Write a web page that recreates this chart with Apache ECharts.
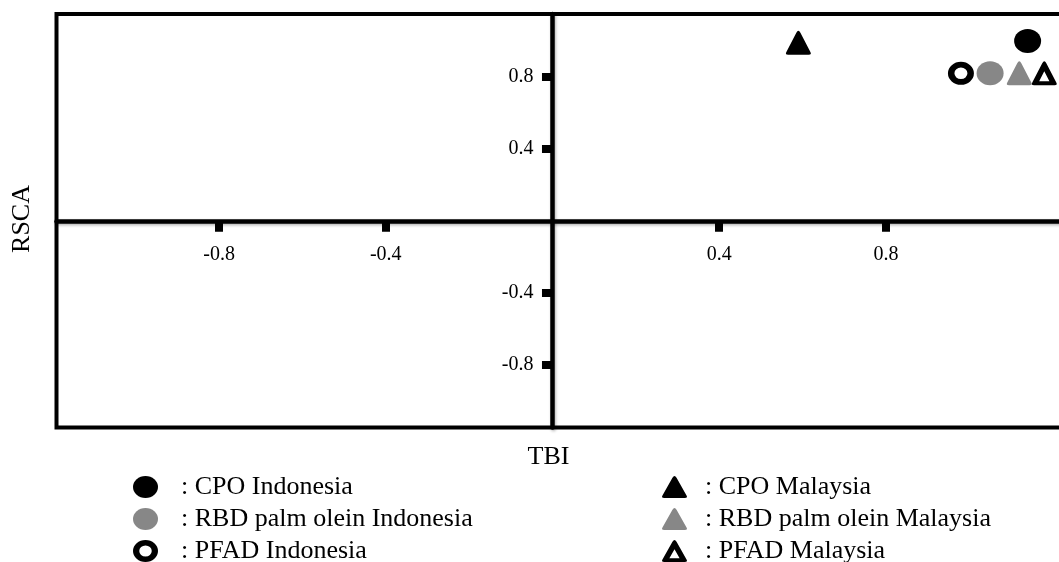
<!DOCTYPE html>
<html>
<head>
<meta charset="utf-8">
<script src="https://cdn.jsdelivr.net/npm/echarts@6/dist/echarts.min.js"></script>
<style>
  html, body { margin: 0; padding: 0; background: #fff; overflow: hidden; }
  #chart { width: 1110px; height: 562px; }
</style>
</head>
<body>
<div id="chart"></div>
<script>
// Products and their position on the TBI / RSCA plane
const seriesNames = [
  'CPO Indonesia', 'RBD palm olein Indonesia', 'PFAD Indonesia',
  'CPO Malaysia', 'RBD palm olein Malaysia', 'PFAD Malaysia'
];
const tbiValues = [1.14, 1.05, 0.98, 0.59, 1.12, 1.18];
const rscaValues = [1.00, 0.82, 0.82, 0.99, 0.82, 0.82];

// Tick positions on both axes
const xTicks = [-0.8, -0.4, 0.4, 0.8];
const yTicks = [-0.8, -0.4, 0.4, 0.8];

const FONT = "'Liberation Serif', 'Times New Roman', serif";

// Plot frame and axis ranges
const GRID = { left: 56.5, top: 14, width: 1037.8, height: 413.5 };
const X_RANGE = [-1.19, 1.3];
const Y_RANGE = [-1.15, 1.15];

// The axes cross at the origin: shift each axis from its frame edge to zero
const xZeroPx = GRID.width * (0 - X_RANGE[0]) / (X_RANGE[1] - X_RANGE[0]);
const yZeroPx = GRID.height * (Y_RANGE[1] - 0) / (Y_RANGE[1] - Y_RANGE[0]);
const xAxisOffset = -(GRID.height - yZeroPx);
const yAxisOffset = -xZeroPx;

// Marker shapes: ellipse, ring, rounded triangle, hollow triangle
const DISC = 'path://M0,50 A50,50 0 1,0 100,50 A50,50 0 1,0 0,50 Z';
const RING = 'path://M0,50 A50,50 0 1,0 100,50 A50,50 0 1,0 0,50 Z M25,50 A25,25 0 1,1 75,50 A25,25 0 1,1 25,50 Z';
const TRI = 'path://M42,8 Q50,-6 58,8 L96,78 Q104,90 90,90 L10,90 Q-4,90 4,78 Z';
const TRI_OPEN = 'path://M42,8 Q50,-6 58,8 L96,78 Q104,90 90,90 L10,90 Q-4,90 4,78 Z M50,38 L30,75 L70,75 Z';

const markerStyles = [
  { symbol: DISC, size: [27, 24], color: '#000000' },
  { symbol: DISC, size: [27, 24], color: '#878787' },
  { symbol: RING, size: [26, 23], color: '#000000' },
  { symbol: TRI, size: [25, 24], color: '#000000' },
  { symbol: TRI, size: [25, 24], color: '#878787' },
  { symbol: TRI_OPEN, size: [25, 24], color: '#000000' }
];

const series = seriesNames.map((name, i) => ({
  name: name,
  type: 'scatter',
  symbol: markerStyles[i].symbol,
  symbolSize: markerStyles[i].size,
  itemStyle: { color: markerStyles[i].color, opacity: 1 },
  data: [[tbiValues[i], rscaValues[i]]],
  z: 5
}));

const legendItems = (from, to) => seriesNames.slice(from, to).map((name, k) => ({
  name: name,
  icon: markerStyles[from + k].symbol
}));

const makeLegend = (left, textGap, items) => ({
  orient: 'vertical',
  left: left,
  top: 474,
  height: 120,
  padding: 0,
  itemWidth: 25,
  itemHeight: 22,
  itemGap: 6,
  selectedMode: false,
  symbolKeepAspect: false,
  formatter: name => ': ' + name,
  textStyle: { fontFamily: FONT, fontSize: 26, color: '#000', lineHeight: 26,
               padding: [0, 0, 0, textGap] },
  data: items
});

const axisText = { fontFamily: FONT, fontSize: 20, color: '#000' };
const axisLineStyle = {
  color: '#000', width: 4.5,
  shadowColor: 'rgba(0,0,0,0.3)', shadowBlur: 3, shadowOffsetX: 1, shadowOffsetY: 1.5
};
const tickStyle = { color: '#000', width: 8 };

const chart = echarts.init(document.getElementById('chart'), null, { renderer: 'canvas' });
chart.setOption({
  animation: false,
  backgroundColor: '#ffffff',
  grid: Object.assign({
    show: true, borderColor: '#000', borderWidth: 4,
    backgroundColor: 'transparent',
    containLabel: false, outerBoundsMode: 'none'
  }, GRID),
  xAxis: {
    type: 'value', min: X_RANGE[0], max: X_RANGE[1],
    position: 'bottom', offset: xAxisOffset,
    splitLine: { show: false },
    axisLine: { onZero: false, lineStyle: axisLineStyle },
    axisTick: { show: true, inside: false, length: 11, customValues: xTicks, lineStyle: tickStyle },
    axisLabel: Object.assign({ customValues: xTicks, margin: 24 }, axisText)
  },
  yAxis: {
    type: 'value', min: Y_RANGE[0], max: Y_RANGE[1],
    position: 'left', offset: yAxisOffset,
    splitLine: { show: false },
    axisLine: { onZero: false, lineStyle: axisLineStyle },
    axisTick: { show: true, inside: false, length: 10.5, customValues: yTicks, lineStyle: tickStyle },
    axisLabel: Object.assign({ customValues: yTicks, margin: 19 }, axisText)
  },
  legend: [
    makeLegend(133, 18, legendItems(0, 3)),
    makeLegend(662, 13, legendItems(3, 6))
  ],
  graphic: [
    { type: 'text', x: 548.5, y: 457.5,
      style: { text: 'TBI', font: '26px ' + FONT, fill: '#000', align: 'center', verticalAlign: 'middle' } },
    { type: 'text', x: 22.5, y: 219, rotation: Math.PI / 2,
      style: { text: 'RSCA', font: '26px ' + FONT, fill: '#000', align: 'center', verticalAlign: 'middle' } }
  ],
  series: series
});
</script>
</body>
</html>
